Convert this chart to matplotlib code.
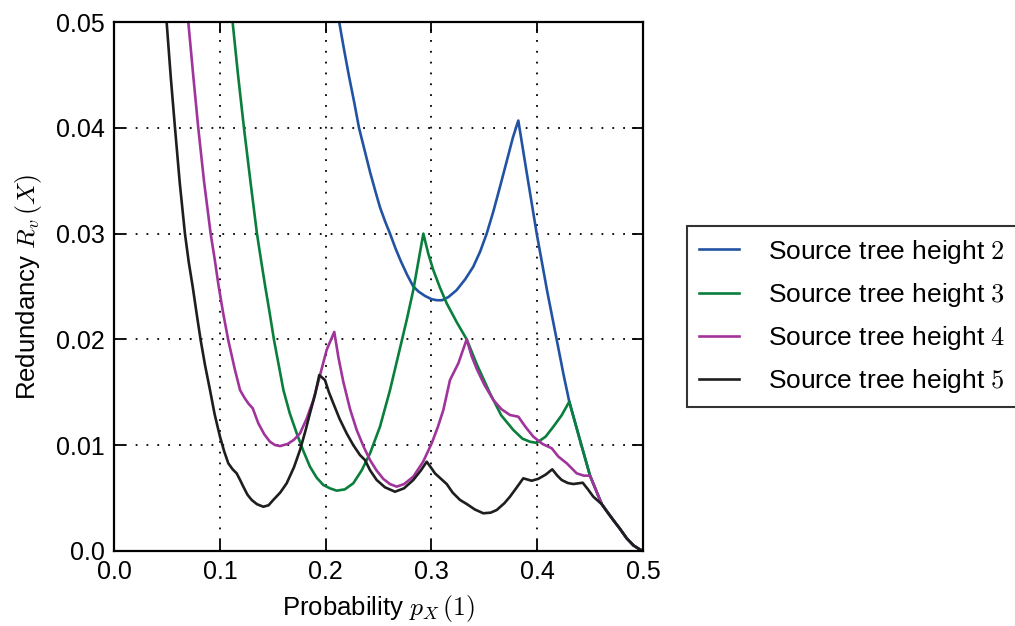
import matplotlib
matplotlib.use("Agg")
import matplotlib.pyplot as plt

plt.rcParams['font.family'] = ['Liberation Sans', 'DejaVu Sans']
plt.rcParams['mathtext.fontset'] = 'cm'

# redundancy curves, read as (p, R) pairs
h2_x = [0.2080, 0.2128, 0.2170, 0.2220, 0.2270, 0.2315, 0.2370, 0.2420, 0.2470, 0.2513,
        0.2560, 0.2608, 0.2660, 0.2710, 0.2770, 0.2828, 0.2880, 0.2940, 0.3000, 0.3050,
        0.3100, 0.3160, 0.3238, 0.3320, 0.3395, 0.3460, 0.3522, 0.3585, 0.3648, 0.3710,
        0.3770, 0.3821, 0.3900, 0.3995, 0.4095, 0.4200, 0.4250, 0.4303, 0.4404, 0.4499,
        0.4610, 0.4660, 0.4719, 0.4780, 0.4846, 0.4910, 0.4972, 0.5000]
h2_y = [0.0529, 0.0500, 0.0476, 0.0449, 0.0424, 0.0400, 0.0378, 0.0358, 0.0340, 0.0325,
        0.0312, 0.0300, 0.0286, 0.0274, 0.0261, 0.0250, 0.0245, 0.0241, 0.0238, 0.0237,
        0.0237, 0.0240, 0.02466, 0.0257, 0.02687, 0.0283, 0.0300, 0.0321, 0.03444, 0.0368,
        0.0391, 0.0407, 0.0358, 0.0300, 0.0245, 0.01915, 0.0166, 0.0141, 0.01047, 0.0071,
        0.00440, 0.0037, 0.0029, 0.0021, 0.00117, 0.0005, 0.0001, 0.0]

h3_x = [0.1080, 0.1120, 0.1170, 0.1227, 0.1290, 0.1350, 0.1390, 0.1428, 0.1470, 0.1510,
        0.1555, 0.1600, 0.1660, 0.1726, 0.1790, 0.1851, 0.1915, 0.1977, 0.2040, 0.2104,
        0.2180, 0.2261, 0.2340, 0.2419, 0.2513, 0.2608, 0.2702, 0.2765, 0.2828, 0.2875,
        0.2923, 0.2970, 0.3017, 0.3080, 0.3144, 0.3240, 0.3333, 0.3430, 0.3553, 0.3660,
        0.3774, 0.3860, 0.3932, 0.3995, 0.4080, 0.4152, 0.4230, 0.4303, 0.4404, 0.4499,
        0.4610, 0.4660, 0.4719, 0.4780, 0.4846, 0.4910, 0.4972, 0.5000]
h3_y = [0.0537, 0.0500, 0.0451, 0.0400, 0.0348, 0.0300, 0.0274, 0.0250, 0.0225, 0.0200,
        0.0176, 0.0152, 0.0130, 0.0111, 0.0094, 0.00795, 0.0069, 0.00622, 0.0059, 0.00568,
        0.0058, 0.00638, 0.0076, 0.00921, 0.01173, 0.0152, 0.01915, 0.0218, 0.02466, 0.0273,
        0.0300, 0.0281, 0.02656, 0.0249, 0.0234, 0.0216, 0.0200, 0.0176, 0.0149, 0.0128,
        0.01142, 0.0106, 0.01031, 0.0102, 0.0108, 0.01173, 0.0128, 0.0141, 0.01047, 0.0071,
        0.00440, 0.0037, 0.0029, 0.0021, 0.00117, 0.0005, 0.0001, 0.0]

h4_x = [0.0670, 0.0701, 0.0748, 0.0795, 0.0850, 0.0912, 0.0950, 0.0985, 0.1030, 0.1079,
        0.1142, 0.1190, 0.1230, 0.1268, 0.1310, 0.1363, 0.1420, 0.1473, 0.1520, 0.1568,
        0.1640, 0.1700, 0.1757, 0.1820, 0.1883, 0.1946, 0.2009, 0.2081, 0.2120, 0.2166,
        0.2230, 0.2293, 0.2360, 0.2419, 0.2480, 0.2545, 0.2608, 0.2671, 0.2740, 0.2828,
        0.2920, 0.3002, 0.3060, 0.3112, 0.3175, 0.3254, 0.3333, 0.3380, 0.3428, 0.3500,
        0.3585, 0.3660, 0.3742, 0.3821, 0.3890, 0.3963, 0.4050, 0.4137, 0.4200, 0.4279,
        0.4373, 0.4440, 0.4499, 0.4610, 0.4660, 0.4719, 0.4780, 0.4846, 0.4910, 0.4972,
        0.5000]
h4_y = [0.0533, 0.0500, 0.0449, 0.0400, 0.0349, 0.0300, 0.0276, 0.0252, 0.0225, 0.0199,
        0.0171, 0.0152, 0.0145, 0.01394, 0.01347, 0.01205, 0.0110, 0.01031, 0.0100, 0.0099,
        0.0101, 0.0105, 0.0111, 0.0125, 0.01426, 0.0166, 0.0190, 0.0207, 0.0183, 0.0160,
        0.0134, 0.01142, 0.0098, 0.00858, 0.0076, 0.00679, 0.0063, 0.00606, 0.0063, 0.0070,
        0.0084, 0.01016, 0.0117, 0.01331, 0.01615, 0.01773, 0.0200, 0.0184, 0.0172, 0.0157,
        0.01426, 0.0134, 0.01284, 0.01268, 0.0117, 0.01079, 0.0101, 0.00969, 0.0089, 0.00827,
        0.00732, 0.0071, 0.0071, 0.00440, 0.0037, 0.0029, 0.0021, 0.00117, 0.0005, 0.0001,
        0.0]

h5_x = [0.0470, 0.0496, 0.0535, 0.0575, 0.0620, 0.0669, 0.0705, 0.0742, 0.0780, 0.0818,
        0.0860, 0.0906, 0.0950, 0.1000, 0.1040, 0.1079, 0.1120, 0.1158, 0.1190, 0.1221,
        0.1260, 0.1300, 0.1350, 0.1410, 0.1460, 0.1504, 0.1570, 0.1631, 0.1700, 0.1757,
        0.1810, 0.1851, 0.1900, 0.1939, 0.1993, 0.2030, 0.2072, 0.2130, 0.2198, 0.2260,
        0.2324, 0.2371, 0.2420, 0.2482, 0.2560, 0.2655, 0.2740, 0.2828, 0.2900, 0.2955,
        0.3000, 0.3033, 0.3090, 0.3144, 0.3200, 0.3270, 0.3333, 0.3410, 0.3490, 0.3560,
        0.3617, 0.3690, 0.3742, 0.3800, 0.3868, 0.3947, 0.4010, 0.4080, 0.4142, 0.4190,
        0.4231, 0.4290, 0.4341, 0.4430, 0.4480, 0.4530, 0.4610, 0.4660, 0.4719, 0.4780,
        0.4846, 0.4910, 0.4972, 0.5000]
h5_y = [0.0530, 0.0500, 0.0448, 0.0400, 0.0348, 0.0300, 0.0273, 0.0250, 0.0224, 0.0199,
        0.0175, 0.0152, 0.0129, 0.0108, 0.0094, 0.00827, 0.0077, 0.00732, 0.0067, 0.00606,
        0.0053, 0.0048, 0.0044, 0.00416, 0.0043, 0.0048, 0.0055, 0.00638, 0.0079, 0.00953,
        0.0114, 0.0130, 0.0148, 0.01662, 0.01615, 0.0150, 0.01394, 0.0125, 0.0111, 0.0100,
        0.00905, 0.00858, 0.0076, 0.00669, 0.0060, 0.00558, 0.0059, 0.00669, 0.0076, 0.00842,
        0.0078, 0.00732, 0.0068, 0.00631, 0.0055, 0.0048, 0.00442, 0.0039, 0.00354, 0.0036,
        0.00385, 0.0045, 0.00511, 0.0059, 0.00685, 0.00662, 0.0068, 0.0072, 0.0077, 0.0071,
        0.00669, 0.0064, 0.00631, 0.00643, 0.0058, 0.00511, 0.00440, 0.0037, 0.0029, 0.0021,
        0.00117, 0.0005, 0.0001, 0.0]

heights = [2, 3, 4, 5]
colors = ['#2253a3', '#0a7f3d', '#a0349b', '#1e1e1e']
series = [(h2_x, h2_y), (h3_x, h3_y), (h4_x, h4_y), (h5_x, h5_y)]

fig = plt.figure(figsize=(10.15, 6.26), dpi=100)
ax = fig.add_axes([0.1125, 0.1203, 0.521, 0.8441])

for (xs, ys), h, c in zip(series, heights, colors):
    ax.plot(xs, ys, color=c, lw=1.9, label='Source tree height $%d$' % h)

ax.set_xlim(0, 0.5)
ax.set_ylim(0, 0.05)
ax.set_xticks([0.0, 0.1, 0.2, 0.3, 0.4, 0.5])
ax.set_yticks([0.0, 0.01, 0.02, 0.03, 0.04, 0.05])
ax.set_xticklabels(['0.0', '0.1', '0.2', '0.3', '0.4', '0.5'])
ax.set_yticklabels(['0.0', '0.01', '0.02', '0.03', '0.04', '0.05'])
ax.grid(True, color='k', linestyle=(0, (1, 5.0)), linewidth=1.3)
ax.tick_params(direction='in', length=8, width=1.3, top=True, right=True,
               labelsize=18, pad=7)
for s in ax.spines.values():
    s.set_linewidth(1.6)

ax.set_xlabel('Probability $p_X\\,(1)$', fontsize=18.5, labelpad=6)
ax.set_ylabel('Redundancy $R_v\\,(X)$', fontsize=18.5, labelpad=8)

leg = fig.legend(loc='center left', bbox_to_anchor=(0.677, 0.4944), fontsize=19,
                 frameon=True, fancybox=False, edgecolor='k', handlelength=1.5,
                 handletextpad=1.1, borderpad=0.45, labelspacing=0.58,
                 borderaxespad=0)
leg.get_frame().set_linewidth(1.5)

fig.savefig('out.png', dpi=100)
